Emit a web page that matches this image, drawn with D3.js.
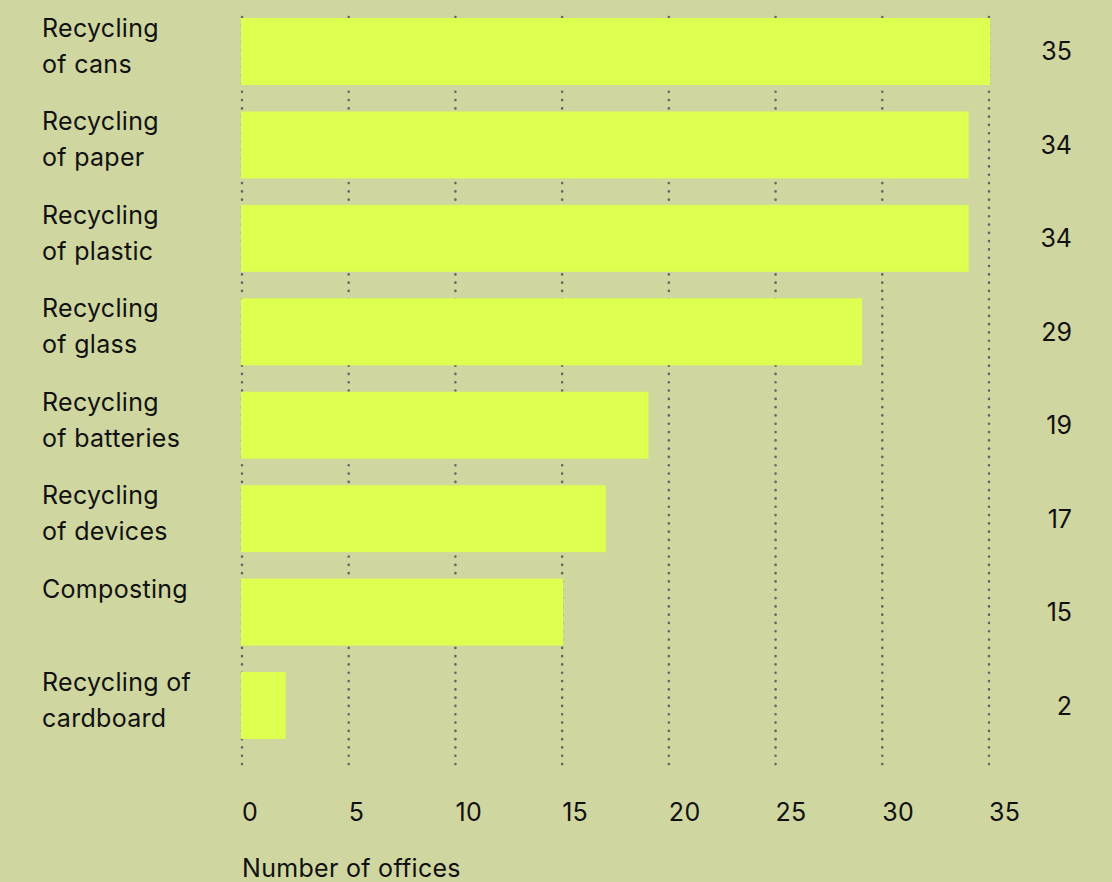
<!DOCTYPE html>
<html>
<head>
<meta charset="utf-8">
<script src="https://cdn.jsdelivr.net/npm/d3@7"></script>
<style>
  body { margin: 0; background: #cfd6a0; }
  svg { display: block; font-family: Inter, "Noto Sans", sans-serif; }
</style>
</head>
<body>
<div id="viz"></div>
<script>
const width = 1112;
const height = 882;
const barColor = '#ddff4f';
const bgColor = '#cfd6a0';
const fontSize = 25;

const categories = [
  ['Recycling', 'of cans'],
  ['Recycling', 'of paper'],
  ['Recycling', 'of plastic'],
  ['Recycling', 'of glass'],
  ['Recycling', 'of batteries'],
  ['Recycling', 'of devices'],
  ['Composting'],
  ['Recycling of', 'cardboard']
];
const values = [35, 34, 34, 29, 19, 17, 15, 2];
const tickValues = [0, 5, 10, 15, 20, 25, 30, 35];
const axisTitle = 'Number of offices';

const xScale = d3.scaleLinear()
  .domain([0, 35])
  .range([242, 989]);

const yScale = d3.scaleBand()
  .domain(d3.range(values.length))
  .range([18, 739])
  .paddingInner(0.283)
  .paddingOuter(0);

const svg = d3.select('#viz')
  .append('svg')
    .attr('width', width)
    .attr('height', height)
    .attr('viewBox', [0, 0, width, height]);

svg.append('rect')
  .attr('width', width)
  .attr('height', height)
  .attr('fill', bgColor);

// dotted grid lines, drawn under the bars
svg.append('g')
  .attr('class', 'grid')
  .selectAll('line')
  .data(tickValues)
  .join('line')
    .attr('x1', d => xScale(d))
    .attr('x2', d => xScale(d))
    .attr('y1', 17)
    .attr('y2', 765)
    .attr('stroke', '#66665e')
    .attr('stroke-width', 2.6)
    .attr('stroke-linecap', 'round')
    .attr('stroke-dasharray', '0.1,8.2');

svg.append('g')
  .attr('class', 'bars')
  .attr('fill', barColor)
  .selectAll('rect')
  .data(values)
  .join('rect')
    .attr('x', xScale(0) - 1)
    .attr('y', (d, i) => yScale(i))
    .attr('width', d => xScale(d) - xScale(0) + 2)
    .attr('height', yScale.bandwidth());

// category labels, one tspan per line
svg.append('g')
  .attr('class', 'cat-labels')
  .selectAll('text')
  .data(categories)
  .join('text')
    .attr('x', 42)
    .attr('y', (d, i) => yScale(i) + 19)
    .attr('font-size', fontSize)
    .attr('letter-spacing', 0.3)
    .attr('fill', '#111')
    .selectAll('tspan')
    .data(d => d)
    .join('tspan')
      .attr('x', 42)
      .attr('dy', (d, i) => i === 0 ? 0 : 36)
      .text(d => d);

// value labels on the right
svg.append('g')
  .attr('class', 'value-labels')
  .selectAll('text')
  .data(values)
  .join('text')
    .attr('x', 1072)
    .attr('y', (d, i) => yScale(i) + yScale.bandwidth() / 2)
    .attr('dy', '0.36em')
    .attr('text-anchor', 'end')
    .attr('font-size', fontSize)
    .attr('fill', '#111')
    .text(d => d);

// tick labels
svg.append('g')
  .attr('class', 'x-ticks')
  .selectAll('text')
  .data(tickValues)
  .join('text')
    .attr('x', d => xScale(d))
    .attr('y', 821)
    .attr('font-size', fontSize)
    .attr('letter-spacing', 0.3)
    .attr('fill', '#111')
    .text(d => d);

svg.append('text')
  .attr('x', 242)
  .attr('y', 877)
  .attr('font-size', fontSize)
  .attr('letter-spacing', 0.3)
  .attr('fill', '#111')
  .text(axisTitle);
</script>
</body>
</html>
